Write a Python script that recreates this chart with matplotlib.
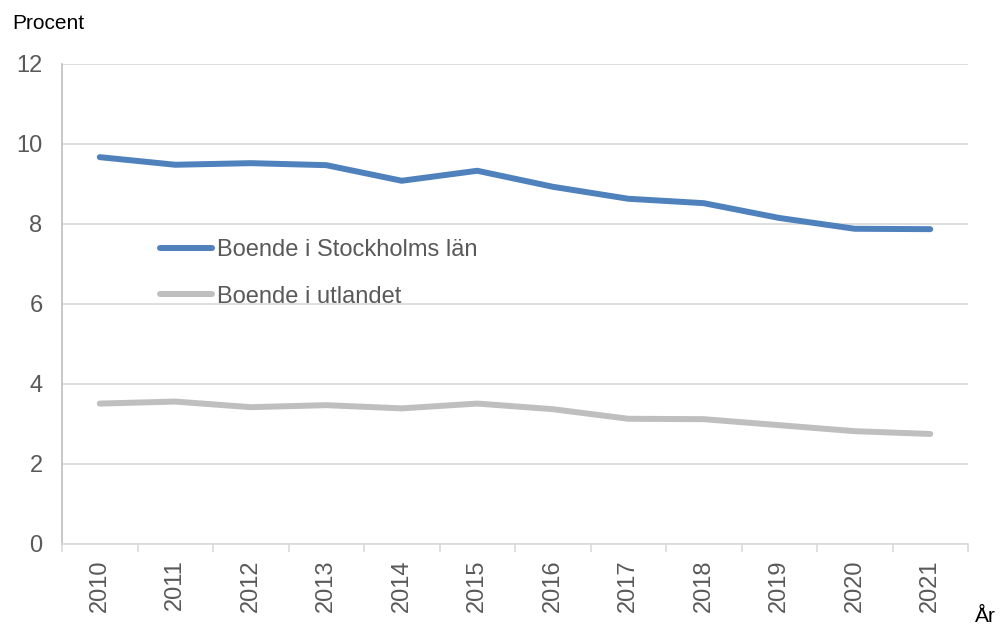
import numpy as np
import matplotlib
matplotlib.use('Agg')
import matplotlib.pyplot as plt

plt.rcParams['font.family'] = ['Liberation Sans', 'DejaVu Sans']

years = ['2010', '2011', '2012', '2013', '2014', '2015',
         '2016', '2017', '2018', '2019', '2020', '2021']
stockholm = [9.67, 9.48, 9.52, 9.47, 9.08, 9.33, 8.93, 8.63, 8.52, 8.15, 7.88, 7.87]
utlandet = [3.51, 3.56, 3.42, 3.47, 3.39, 3.51, 3.37, 3.13, 3.12, 2.97, 2.82, 2.75]

label_stockholm = 'Boende i Stockholms län'
label_utlandet = 'Boende i utlandet'

x = np.arange(len(years))

fig = plt.figure(figsize=(10, 6.27), dpi=100)
ax = fig.add_axes([0.062, 0.1324, 0.906, 0.7656])

ax.plot(x, stockholm, color='#4f81bd', lw=4.3, solid_capstyle='round',
        solid_joinstyle='round', label=label_stockholm, zorder=3)
ax.plot(x, utlandet, color='#bfbfbf', lw=4.3, solid_capstyle='round',
        solid_joinstyle='round', label=label_utlandet, zorder=3)

ax.set_xlim(-0.5, len(years) - 0.5)
ax.set_ylim(0, 12)
ax.set_yticks(range(0, 13, 2))
ax.grid(axis='y', color='#d9d9d9', lw=1.2)
ax.set_axisbelow(True)

ax.set_xticks(x)
ax.set_xticklabels(years, rotation=90, fontsize=17, color='#595959')
ax.set_xticks(np.arange(-0.5, len(years)), minor=True)
ax.tick_params(axis='x', which='major', length=0, pad=11)
ax.tick_params(axis='x', which='minor', length=6, color='#d9d9d9', width=1.2)
ax.tick_params(axis='y', length=0, pad=14, labelsize=17, labelcolor='#595959')

for s in ['top', 'right']:
    ax.spines[s].set_visible(False)
ax.spines['left'].set_color('#bfbfbf')
ax.spines['left'].set_linewidth(1.2)
ax.spines['bottom'].set_color('#d9d9d9')
ax.spines['bottom'].set_linewidth(1.2)

leg = ax.legend(loc='center left', bbox_to_anchor=(0.108, 0.564), frameon=False,
                fontsize=17, handlelength=2.2, handletextpad=0.2,
                labelspacing=1.05, borderpad=0, borderaxespad=0)
for t in leg.get_texts():
    t.set_color('#595959')

fig.text(0.012, 0.962, 'Procent', fontsize=15, ha='left', va='center')
fig.text(0.975, 0.002, 'År', fontsize=15, ha='left', va='bottom')

fig.savefig('out.png', dpi=100)
